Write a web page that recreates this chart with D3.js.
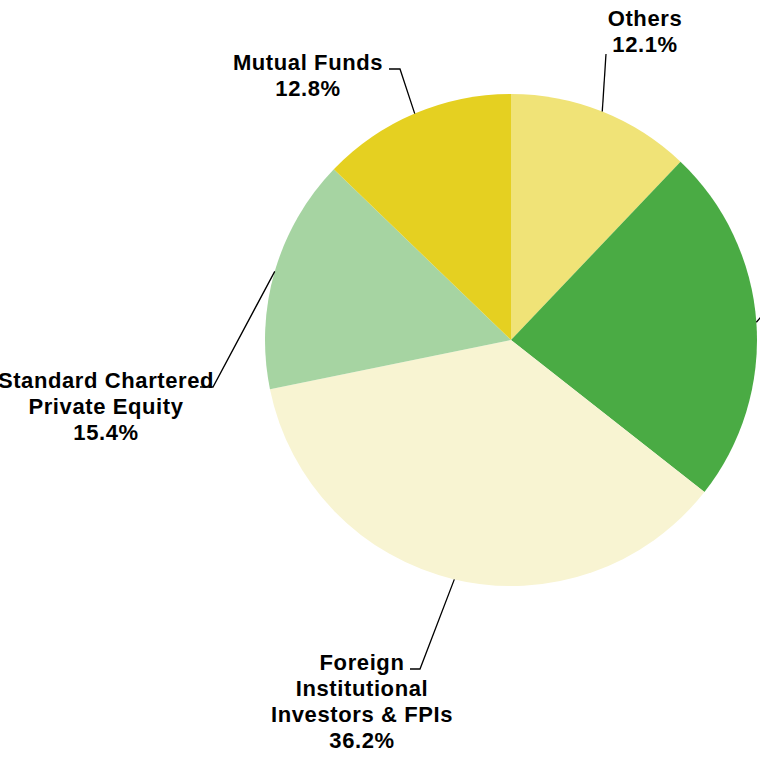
<!DOCTYPE html>
<html><head>
<meta charset="utf-8">
<script src="https://d3js.org/d3.v7.min.js"></script>
<style>
  body { margin: 0; background: #fff; overflow: hidden; }
  text.lbl {
    font-family: "Liberation Sans", Arial, sans-serif;
    font-weight: bold;
    font-size: 22px;
    letter-spacing: 0.6px;
    text-anchor: middle;
    fill: #000;
  }
  path.leader { fill: none; stroke: #000; stroke-width: 1.3px; }
</style>
</head>
<body>
<svg id="chart" width="760" height="757"></svg>
<script>

// shareholding split (percent), clockwise from 12 o'clock
const categories = ["Others", "Promoters", "Foreign Institutional Investors & FPIs", "Standard Chartered Private Equity", "Mutual Funds"];
const values = [12.1, 23.5, 36.2, 15.4, 12.8];
const labelLines = [
  ["Others", "12.1%"],
  ["Promoters", "23.5%"],
  ["Foreign", "Institutional", "Investors & FPIs", "36.2%"],
  ["Standard Chartered", "Private Equity", "15.4%"],
  ["Mutual Funds", "12.8%"]
];
const colors = ["#f0e377", "#4aab44", "#f8f4d2", "#a6d4a2", "#e5d021"];

// where each callout bends / sits, relative to the pie centre
// (the green slice's callout runs off the right edge, as in the source)
const elbows = [[95, -286], [300, -80], [-91, 329], [-298, 47], [-111, -271]];
const ticks = [0, 10, -10, -13, -11];
const textPos = [[134, -314], [400, -85], [-149, 330], [-405, 48], [-203, -270]];

const svg = d3.select("#chart");
const cx = 511, cy = 340, radius = 246;
const layer = svg.append("g").attr("transform", "translate(" + cx + "," + cy + ")");

const pie = d3.pie().sort(null).value(d => d);
const arcs = pie(values);
const arc = d3.arc().innerRadius(0).outerRadius(radius);
const color = d3.scaleOrdinal().domain(categories).range(colors);

layer.selectAll("path.slice").data(arcs)
  .join("path")
  .attr("class", "slice")
  .attr("d", arc)
  .attr("fill", (d, i) => color(categories[i]));

// leader lines: from slice mid-angle on the rim to the elbow, then a short tick
layer.selectAll("path.leader").data(arcs)
  .join("path")
  .attr("class", "leader")
  .attr("d", (d, i) => {
    const a = (d.startAngle + d.endAngle) / 2;
    const x0 = radius * Math.sin(a), y0 = -radius * Math.cos(a);
    const e = elbows[i];
    return d3.line()([[x0, y0], e, [e[0] + ticks[i], e[1]]]);
  });

const labels = layer.selectAll("text.lbl").data(arcs)
  .join("text")
  .attr("class", "lbl")
  .attr("x", (d, i) => textPos[i][0])
  .attr("y", (d, i) => textPos[i][1]);

labels.selectAll("tspan").data((d, i) => labelLines[i])
  .join("tspan")
  .attr("x", function() { return d3.select(this.parentNode).attr("x"); })
  .attr("dy", (d, j) => j === 0 ? 0 : 26)
  .text(d => d);

</script>
</body>
</html>
